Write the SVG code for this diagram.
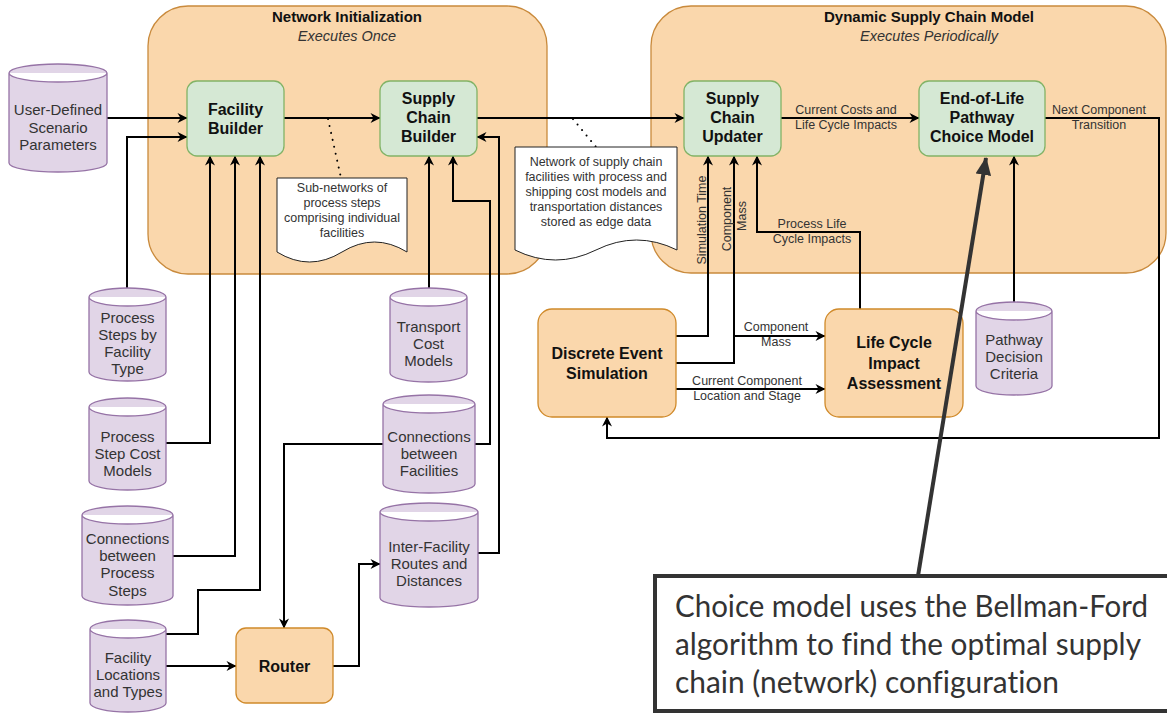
<svg xmlns="http://www.w3.org/2000/svg" width="1167" height="713" viewBox="0 0 1167 713">
  <defs>
    <style>
      .cont { fill: #fad7ac; stroke: #c98a3c; stroke-width: 1.3; }
      .proc { fill: #d5e8d4; stroke: #82b366; stroke-width: 1.3; }
      .sim { fill: #fad7ac; stroke: #d08a2a; stroke-width: 1.3; }
      .db { fill: #e1d5e7; stroke: #9673a6; stroke-width: 1.3; }
      .doc { fill: #ffffff; stroke: #222; stroke-width: 1; }
      .t { font-family: "Liberation Sans", Arial, Helvetica, sans-serif; text-anchor: middle; }
      .title { font-size: 15px; font-weight: bold; fill: #111; }
      .sub { font-size: 14.5px; font-style: italic; fill: #333; }
      .nb { font-size: 16px; font-weight: bold; fill: #111; }
      .dbt { font-size: 15px; fill: #333; }
      .el { font-size: 12.5px; fill: #333; }
      .edge { fill: none; stroke: #000; stroke-width: 2; marker-end: url(#arr); }
      .dots { fill: none; stroke: #000; stroke-width: 2; stroke-dasharray: 0.1 7; stroke-linecap: round; }
      .note { font-family: Lato, "Open Sans", "Noto Sans", sans-serif; font-size: 30px; fill: #333;
              font-variant-ligatures: none; font-feature-settings: "liga" 0, "clig" 0, "dlig" 0; }
    </style>
    <marker id="arr" viewBox="0 0 10 10" refX="9.5" refY="5" markerWidth="11" markerHeight="10" markerUnits="userSpaceOnUse" orient="auto">
      <path d="M0,0 L10,5 L0,10 L3,5 Z" fill="#000"/>
    </marker>
    <marker id="bigarr" viewBox="0 0 16 14" refX="15" refY="7" markerWidth="18" markerHeight="16" markerUnits="userSpaceOnUse" orient="auto">
      <path d="M0,0 L16,7 L0,14 Z" fill="#333"/>
    </marker>
  </defs>

  <rect width="1167" height="713" fill="#ffffff"/>

  <!-- stage containers -->
  <g id="network-initialization">
    <rect class="cont" x="148" y="6" width="399" height="268" rx="40"/>
    <text class="t title" x="347" y="22">Network Initialization</text>
    <text class="t sub" x="347" y="41">Executes Once</text>
  </g>
  <g id="dynamic-supply-chain-model">
    <rect class="cont" x="651" y="6" width="515" height="267" rx="40"/>
    <text class="t title" x="929" y="22">Dynamic Supply Chain Model</text>
    <text class="t sub" x="929" y="41">Executes Periodically</text>
  </g>

  <!-- connectors -->
  <g id="connectors">
    <!-- into Facility Builder -->
    <path class="edge" d="M107,118 H187"/>
    <path class="edge" d="M127,288 V137 H187"/>
    <path class="edge" d="M166,443 H210 V156"/>
    <path class="edge" d="M173,556 H235 V156"/>
    <path class="edge" d="M166,634 H198 V590 H260 V156"/>
    <!-- builders chain -->
    <path class="edge" d="M284,118 H380"/>
    <path class="edge" d="M477,118 H684"/>
    <path class="edge" d="M429,288 V156"/>
    <path class="edge" d="M475,444 H490 V201 H453 V156"/>
    <path class="edge" d="M478,553 H499 V137 H477"/>
    <!-- router -->
    <path class="edge" d="M383,444 H284 V628"/>
    <path class="edge" d="M166,666 H236"/>
    <path class="edge" d="M333,666 H359 V564 H380"/>
    <!-- dynamic model -->
    <path class="edge" d="M676,336 H708 V156"/>
    <path class="edge" d="M676,363 H734 V156"/>
    <path class="edge" d="M734,336 H825"/>
    <path class="edge" d="M676,389 H825"/>
    <path class="edge" d="M860,309 V232 H757 V156"/>
    <path class="edge" d="M781,118 H919"/>
    <path class="edge" d="M1014,302 V156"/>
    <path class="edge" d="M1045,118 H1159 V438 H607 V417"/>
    <!-- dotted links to the notes -->
    <path class="dots" d="M328,119 L341,178"/>
    <path class="dots" d="M573,119 L596,147"/>
  </g>

  <!-- edge labels -->
  <g id="edge-labels">
    <text class="t el" x="846" y="114">Current Costs and</text>
    <text class="t el" x="846" y="129">Life Cycle Impacts</text>
    <text class="t el" x="1099" y="114">Next Component</text>
    <text class="t el" x="1099" y="129">Transition</text>
    <text class="t el" x="812" y="228">Process Life</text>
    <text class="t el" x="812" y="243">Cycle Impacts</text>
    <text class="t el" x="776" y="331">Component</text>
    <text class="t el" x="776" y="346">Mass</text>
    <text class="t el" x="747" y="385">Current Component</text>
    <text class="t el" x="747" y="400">Location and Stage</text>
    <text class="t el" transform="translate(706,220) rotate(-90)">Simulation Time</text>
    <text class="t el" transform="translate(731,219) rotate(-90)">Component</text>
    <text class="t el" transform="translate(746,216) rotate(-90)">Mass</text>
  </g>

  <!-- notes -->
  <g id="note-subnetworks">
    <path class="doc" d="M277,178 H407 V252 Q374.5,232 342,252 Q309.5,272 277,252 Z"/>
    <text class="t el" x="342" y="192">Sub-networks of</text>
    <text class="t el" x="342" y="207">process steps</text>
    <text class="t el" x="342" y="222">comprising individual</text>
    <text class="t el" x="342" y="237">facilities</text>
  </g>
  <g id="note-network">
    <path class="doc" d="M515,147 H677 V250 Q636.5,230 596,250 Q555.5,270 515,250 Z"/>
    <text class="t el" x="596" y="166">Network of supply chain</text>
    <text class="t el" x="596" y="181">facilities with process and</text>
    <text class="t el" x="596" y="196">shipping cost models and</text>
    <text class="t el" x="596" y="211">transportation distances</text>
    <text class="t el" x="596" y="226">stored as edge data</text>
  </g>

  <!-- process nodes -->
  <g id="facility-builder">
    <rect class="proc" x="187" y="81" width="97" height="75" rx="10"/>
    <text class="t nb" x="235.5" y="115">Facility</text>
    <text class="t nb" x="235.5" y="134">Builder</text>
  </g>
  <g id="supply-chain-builder">
    <rect class="proc" x="380" y="81" width="97" height="75" rx="10"/>
    <text class="t nb" x="428.5" y="104">Supply</text>
    <text class="t nb" x="428.5" y="123">Chain</text>
    <text class="t nb" x="428.5" y="142">Builder</text>
  </g>
  <g id="supply-chain-updater">
    <rect class="proc" x="684" y="81" width="97" height="75" rx="10"/>
    <text class="t nb" x="732.5" y="104">Supply</text>
    <text class="t nb" x="732.5" y="123">Chain</text>
    <text class="t nb" x="732.5" y="142">Updater</text>
  </g>
  <g id="eol-choice-model">
    <rect class="proc" x="919" y="81" width="126" height="75" rx="10"/>
    <text class="t nb" x="982" y="104">End-of-Life</text>
    <text class="t nb" x="982" y="123">Pathway</text>
    <text class="t nb" x="982" y="142">Choice Model</text>
  </g>
  <g id="discrete-event-simulation">
    <rect class="sim" x="538" y="309" width="138" height="108" rx="14"/>
    <text class="t nb" x="607" y="359">Discrete Event</text>
    <text class="t nb" x="607" y="379">Simulation</text>
  </g>
  <g id="life-cycle-impact-assessment">
    <rect class="sim" x="825" y="309" width="138" height="108" rx="14"/>
    <text class="t nb" x="894" y="348">Life Cycle</text>
    <text class="t nb" x="894" y="369">Impact</text>
    <text class="t nb" x="894" y="389">Assessment</text>
  </g>
  <g id="router">
    <rect class="sim" x="236" y="628" width="97" height="75" rx="10"/>
    <text class="t nb" x="284.5" y="672">Router</text>
  </g>

  <!-- data stores -->
  <g id="user-defined-parameters">
    <path class="db" d="M9,73 A49,9 0 0 1 107,73 V163 A49,9 0 0 1 9,163 Z M9,73 A49,9 0 0 0 107,73"/>
    <text class="t dbt" x="58" y="115">User-Defined</text>
    <text class="t dbt" x="58" y="133">Scenario</text>
    <text class="t dbt" x="58" y="150">Parameters</text>
  </g>
  <g id="process-steps-by-type">
    <path class="db" d="M89,297 A38.5,9 0 0 1 166,297 V372 A38.5,9 0 0 1 89,372 Z M89,297 A38.5,9 0 0 0 166,297"/>
    <text class="t dbt" x="127.5" y="323">Process</text>
    <text class="t dbt" x="127.5" y="340">Steps by</text>
    <text class="t dbt" x="127.5" y="357">Facility</text>
    <text class="t dbt" x="127.5" y="374">Type</text>
  </g>
  <g id="process-step-cost-models">
    <path class="db" d="M89,407 A38.5,9 0 0 1 166,407 V481 A38.5,9 0 0 1 89,481 Z M89,407 A38.5,9 0 0 0 166,407"/>
    <text class="t dbt" x="127.5" y="442">Process</text>
    <text class="t dbt" x="127.5" y="459">Step Cost</text>
    <text class="t dbt" x="127.5" y="476">Models</text>
  </g>
  <g id="process-step-connections">
    <path class="db" d="M82,515 A45.5,9 0 0 1 173,515 V596 A45.5,9 0 0 1 82,596 Z M82,515 A45.5,9 0 0 0 173,515"/>
    <text class="t dbt" x="127.5" y="544">Connections</text>
    <text class="t dbt" x="127.5" y="561">between</text>
    <text class="t dbt" x="127.5" y="578">Process</text>
    <text class="t dbt" x="127.5" y="596">Steps</text>
  </g>
  <g id="facility-locations">
    <path class="db" d="M90,629 A38,9 0 0 1 166,629 V703 A38,9 0 0 1 90,703 Z M90,629 A38,9 0 0 0 166,629"/>
    <text class="t dbt" x="128" y="663">Facility</text>
    <text class="t dbt" x="128" y="680">Locations</text>
    <text class="t dbt" x="128" y="697">and Types</text>
  </g>
  <g id="transport-cost-models">
    <path class="db" d="M390,297 A38.5,9 0 0 1 467,297 V373 A38.5,9 0 0 1 390,373 Z M390,297 A38.5,9 0 0 0 467,297"/>
    <text class="t dbt" x="428.5" y="332">Transport</text>
    <text class="t dbt" x="428.5" y="349">Cost</text>
    <text class="t dbt" x="428.5" y="366">Models</text>
  </g>
  <g id="facility-connections">
    <path class="db" d="M383,404 A46,9 0 0 1 475,404 V484 A46,9 0 0 1 383,484 Z M383,404 A46,9 0 0 0 475,404"/>
    <text class="t dbt" x="429" y="442">Connections</text>
    <text class="t dbt" x="429" y="459">between</text>
    <text class="t dbt" x="429" y="476">Facilities</text>
  </g>
  <g id="routes-and-distances">
    <path class="db" d="M380,512 A49,9 0 0 1 478,512 V598 A49,9 0 0 1 380,598 Z M380,512 A49,9 0 0 0 478,512"/>
    <text class="t dbt" x="429" y="552">Inter-Facility</text>
    <text class="t dbt" x="429" y="569">Routes and</text>
    <text class="t dbt" x="429" y="586">Distances</text>
  </g>
  <g id="pathway-decision-criteria">
    <path class="db" d="M976,311 A38,9 0 0 1 1052,311 V386 A38,9 0 0 1 976,386 Z M976,311 A38,9 0 0 0 1052,311"/>
    <text class="t dbt" x="1014" y="345">Pathway</text>
    <text class="t dbt" x="1014" y="362">Decision</text>
    <text class="t dbt" x="1014" y="379">Criteria</text>
  </g>

  <!-- callout on the choice model -->
  <g id="callout">
    <path d="M918,576 L986,158" fill="none" stroke="#333" stroke-width="4" marker-end="url(#bigarr)"/>
    <rect x="655" y="576" width="530" height="135" fill="#ffffff" stroke="#333" stroke-width="4"/>
    <text class="note" x="675" y="617" textLength="473" lengthAdjust="spacingAndGlyphs">Choice model uses the Bellman-Ford</text>
    <text class="note" x="675" y="655" textLength="466" lengthAdjust="spacingAndGlyphs">algorithm to find the optimal supply</text>
    <text class="note" x="675" y="693" textLength="384" lengthAdjust="spacingAndGlyphs">chain (network) configuration</text>
  </g>
</svg>
